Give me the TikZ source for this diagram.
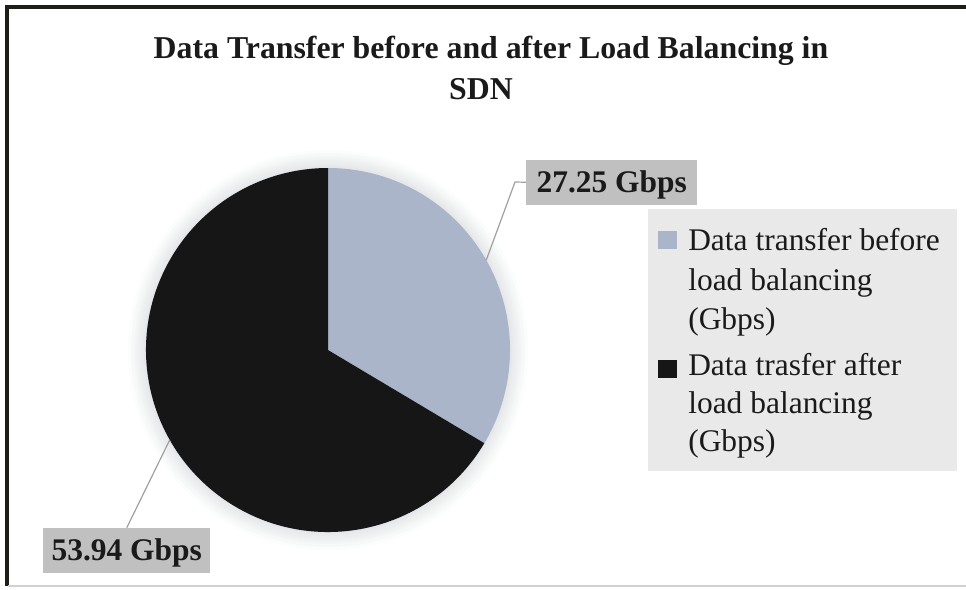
\documentclass[tikz,border=0pt]{standalone}
\usepackage{fontspec}
\setmainfont{Liberation Serif}
\usetikzlibrary{calc}

% Palette
\definecolor{sliceLight}{HTML}{AAB5C9}
\definecolor{sliceDark}{HTML}{161616}
\definecolor{labelFill}{HTML}{C0C0C0}
\definecolor{legendFill}{HTML}{E9E9E9}
\definecolor{frameDark}{HTML}{1E1E18}
\definecolor{inkColor}{HTML}{1A1A1A}
\definecolor{leaderGray}{HTML}{A0A0A0}
\definecolor{haloTint}{HTML}{8A96AA}

\begin{document}
% one unit = one pixel (0.75pt), y grows downwards
\begin{tikzpicture}[x=0.75pt, y=-0.75pt,
  titletext/.style={font=\fontsize{23.85}{30}\selectfont\bfseries, text=inkColor, inner sep=0pt, anchor=base},
  legendtext/.style={font=\fontsize{23.6}{29}\selectfont, text=inkColor, inner sep=0pt, anchor=base west},
  valuebox/.style={font=\fontsize{23.6}{29}\selectfont\bfseries, text=inkColor, fill=labelFill,
    inner xsep=0pt, inner ysep=0pt, text height=24pt, text depth=9.4pt, anchor=base west},
  leader/.style={draw=leaderGray, line width=0.9pt},
  keybox/.style={inner sep=0pt, minimum width=14.25pt, minimum height=13.5pt, anchor=north west}
]
\useasboundingbox (0,0) rectangle (966,589);
\fill[white] (0,0) rectangle (966,589);

% frame
\draw[frameDark, line width=3pt] (5,7) -- (966,7);
\draw[frameDark, line width=3pt] (7,5) -- (7,586);
\draw[black!18, line width=1.5pt] (8,586) -- (966,586);

% title
\node[titletext] (title1) at (491,58) {Data Transfer before and after Load Balancing in};
\node[titletext] (title2) at (481,99) {SDN};

% pie with a soft halo
\coordinate (c) at (328,350);
\foreach \g in {18,15,12,10,8,6,4,2}{
  \fill[haloTint, opacity=0.028] (c) circle[radius=136.5pt+\g*0.75pt];
}
\fill[sliceLight] (c) -- ++(90:136.5pt) arc[start angle=90, end angle=-30.8, radius=136.5pt] -- cycle;
\fill[sliceDark] (c) -- ++(-30.8:136.5pt) arc[start angle=-30.8, end angle=-270, radius=136.5pt] -- cycle;

% leader anchors on the rim
\path (c) ++(29.6:136.5pt) coordinate (p1);
\path (c) ++(209.6:136.5pt) coordinate (p2);

% value labels
\node[valuebox, minimum width=128.25pt] (v1) at (526,192) {27.25 Gbps};
\node[valuebox, minimum width=125.25pt] (v2) at (43,560) {53.94 Gbps};

\coordinate (k1) at (515,182);
\draw[leader] (p1) -- (k1) -- (v1.west);
\draw[leader] (p2) -- (v2.north);

% legend
\node[fill=legendFill, inner sep=0pt, minimum width=231.75pt, minimum height=196.5pt, anchor=north west] (legend) at (648,209) {};
\node[keybox, fill=sliceLight] (key1) at (658,231) {};
\node[keybox, fill=sliceDark] (key2) at (658,360) {};
\node[legendtext] (l1a) at (688,250) {Data transfer before};
\node[legendtext] (l1b) at (688,290) {load balancing};
\node[legendtext] (l1c) at (688,329) {(Gbps)};
\node[legendtext] (l2a) at (688,375) {Data trasfer after};
\node[legendtext] (l2b) at (688,413) {load balancing};
\node[legendtext] (l2c) at (688,451) {(Gbps)};
\end{tikzpicture}
\end{document}
